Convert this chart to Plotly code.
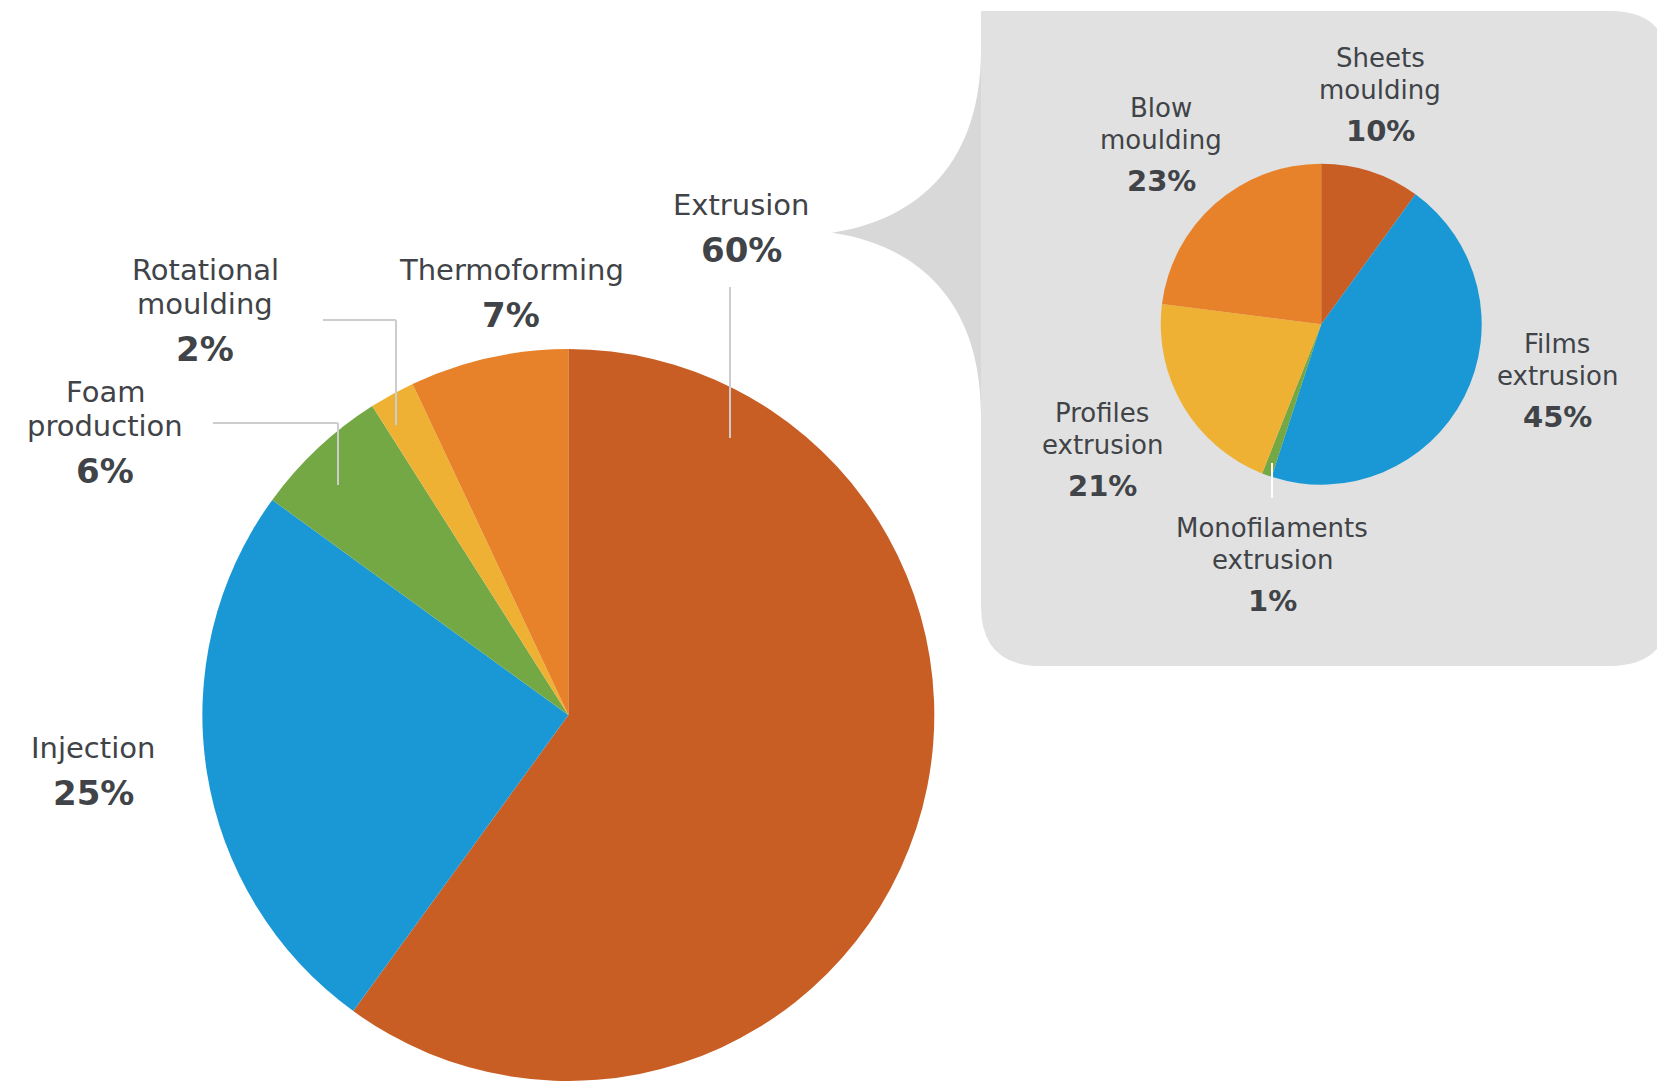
import plotly.graph_objects as go

# Share of plastics processing methods (%)
main_labels = ["Extrusion", "Injection", "Foam\nproduction", "Rotational\nmoulding", "Thermoforming"]
main_values = [60, 25, 6, 2, 7]
main_colors = ["#C95E25", "#1A98D5", "#73A845", "#EEB133", "#E8822A"]

# Breakdown of the extrusion share (%)
ext_labels = ["Sheets\nmoulding", "Films\nextrusion", "Monofilaments\nextrusion",
              "Profiles\nextrusion", "Blow\nmoulding"]
ext_values = [10, 45, 1, 21, 23]
ext_colors = ["#C95E25", "#1A98D5", "#73A845", "#EEB133", "#E8822A"]

W, H = 1657, 1081
FONT = "DejaVu Sans"
TEXT_COLOR = "#404347"

# label anchors in page pixels: (centre x, baseline of first line)
main_label_pos = [(741, 215), (93, 758), (105, 402), (205, 280), (511, 280)]
ext_label_pos = [(1380, 67), (1557, 353), (1272, 537), (1102, 422), (1161, 117)]

fig = go.Figure()

# invisible trace so the pixel-space axes exist for shapes and annotations
fig.add_trace(go.Scatter(x=[], y=[], showlegend=False, hoverinfo="skip"))

fig.add_trace(go.Pie(
    labels=[l.replace("\n", " ") for l in main_labels], values=main_values,
    marker=dict(colors=main_colors, line=dict(width=0)),
    sort=False, direction="clockwise", rotation=0,
    textinfo="none", hoverinfo="label+percent", showlegend=False,
    domain=dict(x=[0.1221, 0.5639], y=[0.0, 0.6771]),
))

fig.add_trace(go.Pie(
    labels=[l.replace("\n", " ") for l in ext_labels], values=ext_values,
    marker=dict(colors=ext_colors, line=dict(width=0)),
    sort=False, direction="clockwise", rotation=0,
    textinfo="none", hoverinfo="label+percent", showlegend=False,
    domain=dict(x=[0.7005, 0.8942], y=[0.5516, 0.8486]),
))

shapes = []
# grey callout panel with rounded corners
panel = ("M 981,11 L 1610,11 Q 1670,11 1670,71 L 1670,606 Q 1670,666 1610,666 "
         "L 1041,666 Q 981,666 981,606 Z")
shapes.append(dict(type="path", path=panel, xref="x", yref="y",
                   fillcolor="#E1E1E1", line=dict(width=0), layer="below"))
# pointer towards the extrusion label
pointer = ("M 981,50 C 981,175 905,222 832,232.7 C 905,243 981,290 981,415 Z")
shapes.append(dict(type="path", path=pointer, xref="x", yref="y",
                   fillcolor="#D8D8D8", line=dict(width=0), layer="below"))

# leader lines
leaders = [
    ([730, 730], [287, 438], "#CDCDCD"),
    ([323, 396, 396], [320, 320, 425], "#CDCDCD"),
    ([213, 338, 338], [423, 423, 485], "#CDCDCD"),
    ([1272, 1272], [463, 498], "#FFFFFF"),
]
for xs, ys, col in leaders:
    for i in range(len(xs) - 1):
        shapes.append(dict(type="line", xref="x", yref="y",
                           x0=xs[i], y0=ys[i], x1=xs[i + 1], y1=ys[i + 1],
                           line=dict(color=col, width=2), layer="above"))

annotations = []


def add_line(x, baseline, text, size, bold=False):
    annotations.append(dict(
        x=x, y=baseline - 0.346 * size, xref="x", yref="y",
        text=text, showarrow=False, xanchor="center", yanchor="middle",
        font=dict(family=FONT, size=size, color=TEXT_COLOR,
                  weight="bold" if bold else "normal"),
    ))


def add_label(pos, name, value, size, bold_size, gap, pct_gap):
    x, base = pos
    lines = name.split("\n")
    for i, line in enumerate(lines):
        add_line(x, base + i * gap, line, size)
    add_line(x, base + (len(lines) - 1) * gap + pct_gap, f"{value}%", bold_size, bold=True)


for pos, name, val in zip(main_label_pos, main_labels, main_values):
    add_label(pos, name, val, 29, 34, 34, 46.5)

for pos, name, val in zip(ext_label_pos, ext_labels, ext_values):
    add_label(pos, name, val, 26, 29, 32, 42)

fig.update_layout(
    width=W, height=H,
    margin=dict(l=0, r=0, t=0, b=0),
    paper_bgcolor="white", plot_bgcolor="rgba(0,0,0,0)",
    xaxis=dict(range=[0, W], visible=False, fixedrange=True, domain=[0, 1]),
    yaxis=dict(range=[H, 0], visible=False, fixedrange=True, domain=[0, 1]),
    shapes=shapes, annotations=annotations,
    showlegend=False,
)

fig.write_html("out.html")
